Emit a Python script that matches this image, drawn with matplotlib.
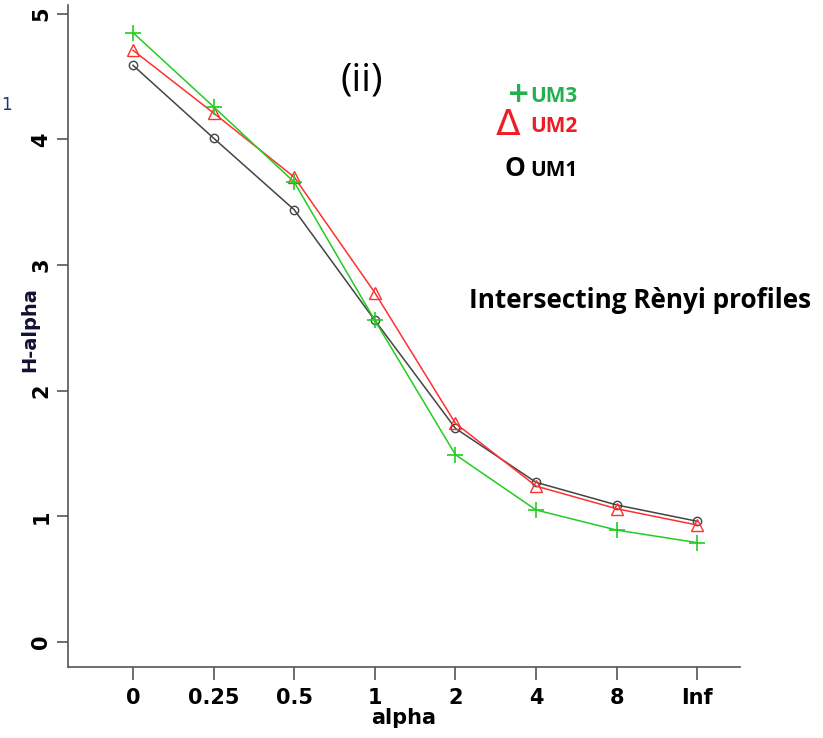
import numpy as np
import matplotlib.pyplot as plt

# Renyi diversity profiles
alpha_labels = ['0', '0.25', '0.5', '1', '2', '4', '8', 'Inf']
um1 = [4.59, 4.01, 3.44, 2.56, 1.70, 1.27, 1.09, 0.96]
um2 = [4.71, 4.21, 3.70, 2.78, 1.74, 1.24, 1.06, 0.93]
um3 = [4.85, 4.26, 3.66, 2.56, 1.49, 1.05, 0.89, 0.79]

plt.rcParams['font.family'] = ['Liberation Sans Narrow', 'DejaVu Sans Condensed', 'DejaVu Sans']

fig = plt.figure(figsize=(8.23, 7.38), dpi=100)
ax = fig.add_axes([68 / 823, 1 - 667 / 738, (740 - 68) / 823, (667 - 5) / 738])

x = np.arange(len(alpha_labels))
ax.plot(x, um1, color='#444444', lw=1.1, marker='o', ms=6, mfc='none', mew=1.0)
ax.plot(x, um2, color='#ff3030', lw=1.1, marker='^', ms=9, mfc='none', mew=1.0)
ax.plot(x, um3, color='#22cc22', lw=1.1, marker='+', ms=12, mew=1.2)

ax.set_xlim(-0.806, 7.53)
ax.set_ylim(-0.2, 5.07)
ax.set_xticks(x)
ax.set_xticklabels(alpha_labels, fontsize=15, fontweight='bold')
ax.set_yticks(range(6))
ax.set_yticklabels([str(i) for i in range(6)], fontsize=15, fontweight='bold',
                   rotation=90, va='center')
for s in ['top', 'right']:
    ax.spines[s].set_visible(False)
for s in ['left', 'bottom']:
    ax.spines[s].set_color('#555555')
    ax.spines[s].set_linewidth(1.2)
ax.tick_params(axis='x', length=9, width=1.2, color='#555555', pad=6)
ax.tick_params(axis='y', length=8, width=1.2, color='#555555', pad=4)

ax.set_xlabel('alpha', fontsize=15, fontweight='bold', labelpad=0)
ax.set_ylabel('H-alpha', fontsize=14, fontweight='bold', color='#111133')
ax.yaxis.set_label_coords(-0.043, 0.509)


def fx(px):
    return px / 823


def fy(py):
    return 1 - py / 738


fig.text(fx(362), fy(80), '(ii)', fontsize=28, ha='center', va='center',
         family=['Open Sans', 'DejaVu Sans'])
fig.text(fx(469), fy(300), 'Intersecting Rènyi profiles', fontsize=18.8,
         fontweight='bold', ha='left', va='center', family=['Open Sans', 'DejaVu Sans'])
fig.text(fx(507), fy(94), '+', fontsize=20, fontweight='bold', color='#22b14c',
         ha='left', va='center', family=['DejaVu Sans'])
fig.text(fx(530), fy(96), 'UM3', fontsize=15, fontweight='bold', color='#22b14c',
         ha='left', va='center', family=['Open Sans', 'DejaVu Sans'])
fig.text(fx(496), fy(125), '\u0394', fontsize=26, color='#ee1c24',
         ha='left', va='center', family=['DejaVu Sans'])
fig.text(fx(530), fy(127), 'UM2', fontsize=15, fontweight='bold', color='#ee1c24',
         ha='left', va='center', family=['Open Sans', 'DejaVu Sans'])
fig.text(fx(505), fy(169), 'O', fontsize=19, fontweight='bold', color='black',
         ha='left', va='center', family=['Open Sans', 'DejaVu Sans'])
fig.text(fx(530), fy(171), 'UM1', fontsize=15, fontweight='bold', color='black',
         ha='left', va='center', family=['Open Sans', 'DejaVu Sans'])
fig.text(fx(1), fy(105), '1', fontsize=12, color='#1f3a6e', ha='left', va='center')

fig.savefig('out.png', dpi=100)
